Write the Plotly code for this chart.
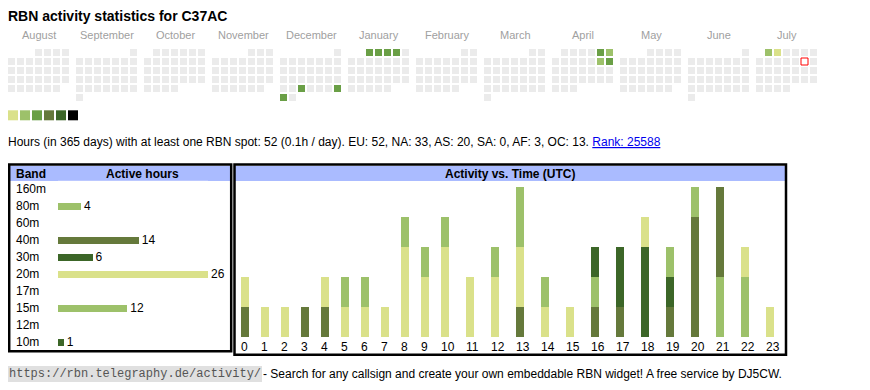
import calendar
import datetime as dt
import plotly.graph_objects as go

# page coordinates: the browser puts the figure at an 8px body margin
OFF = 8
PAGE_W, PAGE_H = 870, 390
W, H = PAGE_W - OFF, PAGE_H - OFF
FONT = "Liberation Sans, Arial, sans-serif"

# ---------------- data ----------------
callsign = "C37AC"
month_names = ["August", "September", "October", "November", "December", "January",
               "February", "March", "April", "May", "June", "July"]
month_years = [(2024, 8), (2024, 9), (2024, 10), (2024, 11), (2024, 12), (2025, 1),
               (2025, 2), (2025, 3), (2025, 4), (2025, 5), (2025, 6), (2025, 7)]
# activity level per day (1..6), days not listed = 0
active_days = {
    "2024-12-25": 3, "2024-12-29": 3, "2024-12-30": 3,
    "2025-01-01": 3, "2025-01-02": 3, "2025-01-03": 3, "2025-01-04": 3,
    "2025-04-05": 3, "2025-04-06": 2, "2025-04-12": 2, "2025-04-13": 3,
    "2025-07-01": 2, "2025-07-02": 1,
}
today = "2025-07-12"
level_colors = ["#ebebeb", "#dae18a", "#9dc16a", "#6a9f46", "#65793b", "#3c6628", "#000000"]

total_hours = 52
continents = ["EU", "NA", "AS", "SA", "AF", "OC"]
continent_hours = [52, 33, 20, 0, 3, 13]
rank = 25588

bands = ["160m", "80m", "60m", "40m", "30m", "20m", "17m", "15m", "12m", "10m"]
band_hours = [0, 4, 0, 14, 6, 26, 0, 12, 0, 1]
band_colors = ["#9dc16a", "#9dc16a", "#65793b", "#65793b", "#3c6628",
               "#dae18a", "#dae18a", "#9dc16a", "#65793b", "#3c6628"]

hour_labels = [str(h) for h in range(24)]
hourly = {
    "80m": [0, 0, 0, 0, 0, 0, 0, 0, 0, 0, 0, 0, 0, 0, 0, 0, 0, 0, 0, 0, 0, 2, 2, 0],
    "40m": [1, 0, 0, 1, 1, 0, 0, 0, 0, 0, 0, 0, 0, 1, 0, 0, 1, 1, 0, 1, 4, 3, 0, 0],
    "30m": [0, 0, 0, 0, 0, 0, 0, 0, 0, 0, 0, 0, 0, 0, 0, 0, 0, 2, 3, 1, 0, 0, 0, 0],
    "20m": [1, 1, 1, 0, 1, 1, 1, 1, 3, 2, 3, 2, 2, 2, 1, 1, 0, 0, 1, 0, 0, 0, 1, 1],
    "15m": [0, 0, 0, 0, 0, 1, 1, 0, 1, 1, 1, 0, 1, 2, 1, 0, 1, 0, 0, 1, 1, 0, 0, 0],
    "10m": [0, 0, 0, 0, 0, 0, 0, 0, 0, 0, 0, 0, 0, 0, 0, 0, 1, 0, 0, 0, 0, 0, 0, 0],
}

url = "https://rbn.telegraphy.de/activity/"
footer = "- Search for any callsign and create your own embeddable RBN widget! A free service by DJ5CW."


# ---------------- helpers (page px -> paper fraction) ----------------
def fx(px):
    return (px - OFF) / W


def fy(py):
    return 1 - (py - OFF) / H


fig = go.Figure()

# ---------------- calendar ----------------
cx, cy, cc = [], [], []
tx, ty = [], []
for m, (yr, mo) in enumerate(month_years):
    first_wd = dt.date(yr, mo, 1).weekday()
    ndays = calendar.monthrange(yr, mo)[1]
    for d in range(1, ndays + 1):
        row, col = divmod(first_wd + d - 1, 7)
        x = 8 + 68 * m + 9 * col + 3.5
        y = 49 + 9 * row + 3.5
        key = f"{yr}-{mo:02d}-{d:02d}"
        if key == today:
            tx.append(x)
            ty.append(y)
            continue
        cx.append(x)
        cy.append(y)
        cc.append(level_colors[active_days.get(key, 0)])

fig.add_trace(go.Scatter(x=cx, y=cy, mode="markers", xaxis="x", yaxis="y",
                         marker=dict(symbol="square", size=7, color=cc, line=dict(width=0)),
                         hoverinfo="skip"))
fig.add_trace(go.Scatter(x=tx, y=ty, mode="markers", xaxis="x", yaxis="y",
                         marker=dict(symbol="square", size=7, color="white",
                                     line=dict(width=1, color="#ff0000")),
                         hoverinfo="skip"))
# level legend
fig.add_trace(go.Scatter(x=[13 + 12 * i for i in range(len(level_colors) - 1)],
                         y=[115.3] * (len(level_colors) - 1), mode="markers",
                         xaxis="x", yaxis="y",
                         marker=dict(symbol="square", size=10, color=level_colors[1:],
                                     line=dict(width=0)),
                         hoverinfo="skip"))

annotations = []
for m, name in enumerate(month_names):
    annotations.append(dict(x=8 + 68 * m + 31, y=35, xref="x", yref="y", text=name,
                            showarrow=False, font=dict(family=FONT, size=11, color="#a0a0a0"),
                            xanchor="center", yanchor="middle"))

annotations.append(dict(x=8, y=16, xref="x", yref="y",
                        text=f"<b>RBN activity statistics for {callsign}</b>",
                        showarrow=False, font=dict(family=FONT, size=14, color="black"),
                        xanchor="left", yanchor="middle", borderpad=0, borderwidth=0))

stats = (f"Hours (in 365 days) with at least one RBN spot: {total_hours} "
         f"({total_hours / 365:.1f}h / day). "
         + ", ".join(f"{c}: {v}" for c, v in zip(continents, continent_hours))
         + f'. <span style="color:#0000ee"><u>Rank: {rank}</u></span>')
annotations.append(dict(x=8, y=142, xref="x", yref="y", text=stats, showarrow=False,
                        font=dict(family=FONT, size=12, color="black"),
                        xanchor="left", yanchor="middle", borderpad=0, borderwidth=0))

# ---------------- band table ----------------
band_top, row_h = 189.3, 17
fig.add_trace(go.Bar(
    y=bands, x=band_hours, orientation="h", xaxis="x2", yaxis="y2",
    marker=dict(color=band_colors, line=dict(width=0)), width=7 / 17,
    text=[str(v) if v else "" for v in band_hours], textposition="outside",
    textfont=dict(family=FONT, size=12, color="black"), cliponaxis=False,
    constraintext="none", hoverinfo="skip"))

for i, b in enumerate(bands):
    annotations.append(dict(x=16, y=band_top + row_h * i, xref="x", yref="y", text=b,
                            showarrow=False, font=dict(family=FONT, size=12, color="black"),
                            xanchor="left", yanchor="middle", borderpad=0, borderwidth=0))

annotations.append(dict(x=16, y=174, xref="x", yref="y", text="<b>Band</b>", showarrow=False,
                        font=dict(family=FONT, size=12, color="black"),
                        xanchor="left", yanchor="middle", borderpad=0, borderwidth=0))
annotations.append(dict(x=142, y=174, xref="x", yref="y", text="<b>Active hours</b>",
                        showarrow=False, font=dict(family=FONT, size=12, color="black"),
                        xanchor="center", yanchor="middle", borderpad=0, borderwidth=0))

# ---------------- hourly chart ----------------
positions = []
left = 235
for lab in hour_labels:
    positions.append(left + 10)
    left += 20 if len(lab) == 1 else 25

for b, col in zip(bands, band_colors):
    if b not in hourly:
        continue
    fig.add_trace(go.Bar(x=positions, y=hourly[b], width=8, xaxis="x3", yaxis="y3",
                         marker=dict(color=col, line=dict(width=0)), hoverinfo="skip"))

for p, lab in zip(positions, hour_labels):
    annotations.append(dict(x=p - 4, y=346.5, xref="x3", yref="y", text=lab, showarrow=False,
                            font=dict(family=FONT, size=12, color="black"),
                            xanchor="left", yanchor="middle", borderpad=0, borderwidth=0))

annotations.append(dict(x=510, y=174, xref="x", yref="y", text="<b>Activity vs. Time (UTC)</b>",
                        showarrow=False, font=dict(family=FONT, size=12, color="black"),
                        xanchor="center", yanchor="middle", borderpad=0, borderwidth=0))

totals = [sum(v[h] for v in hourly.values()) for h in range(24)]
bar_base, unit = 337, 30

# ---------------- footer ----------------
annotations.append(dict(x=8, y=374, xref="x", yref="y", text=url, showarrow=False,
                        font=dict(family="Liberation Mono, DejaVu Sans Mono, monospace",
                                  size=12, color="#555555"),
                        bgcolor="#e0e0e0", borderpad=1, borderwidth=0,
                        xanchor="left", yanchor="middle"))
annotations.append(dict(x=263, y=374, xref="x", yref="y", text=footer, showarrow=False,
                        font=dict(family=FONT, size=12, color="black"),
                        xanchor="left", yanchor="middle", borderpad=0, borderwidth=0))

# ---------------- shapes ----------------
shapes = [
    dict(type="rect", xref="x", yref="y", x0=10, x1=231, y0=166, y1=181,
         fillcolor="#aabbff", line=dict(width=0), layer="below"),
    dict(type="rect", xref="x", yref="y", x0=235, x1=785, y0=166, y1=181,
         fillcolor="#aabbff", line=dict(width=0), layer="below"),
    dict(type="rect", xref="x", yref="y", x0=9.2, x1=231.2, y0=164.5, y1=351.2,
         line=dict(color="black", width=2.5), fillcolor="rgba(0,0,0,0)"),
    dict(type="rect", xref="x", yref="y", x0=234.5, x1=786, y0=164.5, y1=354.8,
         line=dict(color="black", width=2.5), fillcolor="rgba(0,0,0,0)"),
]

fig.update_layout(
    width=W, height=H, margin=dict(l=0, r=0, t=0, b=0),
    paper_bgcolor="white", plot_bgcolor="white",
    showlegend=False, hovermode=False, barmode="stack",
    font=dict(family=FONT, size=12, color="black"),
    xaxis=dict(domain=[0, 1], range=[OFF, PAGE_W], visible=False, fixedrange=True),
    yaxis=dict(domain=[0, 1], range=[PAGE_H, OFF], visible=False, fixedrange=True),
    xaxis2=dict(domain=[fx(58), fx(208)], range=[0, max(band_hours)], visible=False,
                anchor="y2", fixedrange=True),
    yaxis2=dict(domain=[fy(band_top + row_h * (len(bands) - 0.5)), fy(band_top - row_h * 0.5)],
                type="category", categoryarray=bands, categoryorder="array",
                range=[len(bands) - 0.5, -0.5], visible=False, anchor="x2", fixedrange=True),
    xaxis3=dict(domain=[fx(233), fx(787)], range=[233, 787], visible=False, anchor="y3",
                fixedrange=True),
    yaxis3=dict(domain=[fy(bar_base), fy(bar_base - unit * max(totals))],
                range=[0, max(totals)], visible=False, anchor="x3", fixedrange=True),
    annotations=annotations, shapes=shapes,
)

fig.write_html("out.html")
